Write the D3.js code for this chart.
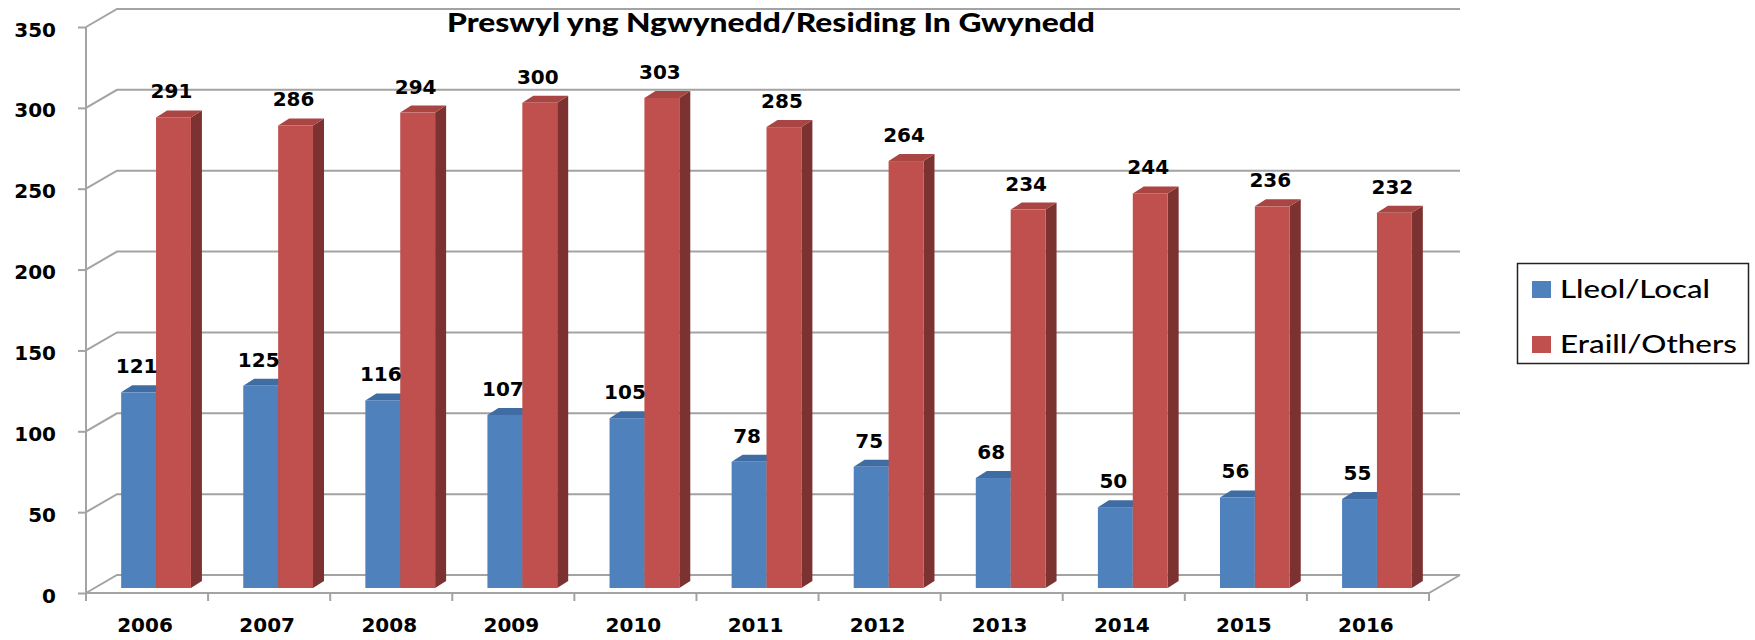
<!DOCTYPE html>
<html>
<head>
<meta charset="utf-8">
<script src="https://cdn.jsdelivr.net/npm/d3@7"></script>
<style>
  body { margin: 0; background: #fff; }
  svg { display: block; }
</style>
</head>
<body>
<svg id="chart" width="1755" height="640"></svg>
<script>
// data
var years = ["2006", "2007", "2008", "2009", "2010", "2011", "2012", "2013", "2014", "2015", "2016"];
var localVals = [121, 125, 116, 107, 105, 78, 75, 68, 50, 56, 55];
var otherVals = [291, 286, 294, 300, 303, 285, 264, 234, 244, 236, 232];
var seriesNames = ["Lleol/Local", "Eraill/Others"];
var yTicks = [0, 50, 100, 150, 200, 250, 300, 350];
var title = "Preswyl yng Ngwynedd/Residing In Gwynedd";

var svg = d3.select("#chart");

// wall depth (front plane -> back wall) and bar depth
var DX = 31, DY = -18;
var BX = 9, BY = -5;     // bar front face sits part way into the floor
var BDX = 11, BDY = -7;  // bar thickness

var x0 = d3.scaleBand().domain(years).range([86, 1429]).padding(0);
var x1 = d3.scaleBand().domain(seriesNames).range([0, x0.bandwidth()]).paddingInner(0).paddingOuter(0.75);
var y = d3.scaleLinear().domain([0, 350]).range([593, 27]);

var colors = {
  "Lleol/Local": { front: "#4f81bd", top: "#3f6ca3", side: "#2f5482" },
  "Eraill/Others": { front: "#c0504d", top: "#a94542", side: "#7b3230" }
};

var grid = svg.append("g").attr("stroke", "#a3a3a3").attr("stroke-width", 2).attr("fill", "none");

// back wall gridlines + left wall diagonals
yTicks.forEach(function (t) {
  var yf = y(t);
  grid.append("path")
    .attr("d", "M" + x0.range()[0] + "," + yf + "L" + (x0.range()[0] + DX) + "," + (yf + DY) +
               "L" + (x0.range()[1] + DX) + "," + (yf + DY));
});

// floor right edge + front edge
grid.append("path")
  .attr("d", "M" + x0.range()[0] + "," + y(0) + "L" + x0.range()[1] + "," + y(0) +
             "L" + (x0.range()[1] + DX) + "," + (y(0) + DY));

// y axis (front left edge) with ticks
var yAxis = d3.axisLeft(y).tickValues(yTicks).tickSize(8).tickPadding(22);
var gy = svg.append("g").attr("transform", "translate(" + x0.range()[0] + ",0)").call(yAxis);
gy.select(".domain").attr("stroke", "#a3a3a3").attr("stroke-width", 2)
  .attr("d", "M0," + y(350) + "V" + y(0));
gy.selectAll(".tick line").attr("stroke", "#a3a3a3").attr("stroke-width", 2);
gy.selectAll(".tick text")
  .attr("font-family", "DejaVu Sans").attr("font-weight", "bold").attr("font-size", 20)
  .attr("fill", "#000").attr("dy", "0.45em");

// x axis: ticks at category boundaries, labels at centres
var gx = svg.append("g");
d3.range(years.length + 1).forEach(function (i) {
  var xx = x0.range()[0] + i * x0.step();
  gx.append("line").attr("x1", xx).attr("x2", xx).attr("y1", y(0)).attr("y2", y(0) + 8)
    .attr("stroke", "#a3a3a3").attr("stroke-width", 2);
});
gx.selectAll("text").data(years).enter().append("text")
  .attr("x", function (d) { return x0(d) + x0.bandwidth() / 2 - 2; })
  .attr("y", 632)
  .attr("text-anchor", "middle")
  .attr("font-family", "DejaVu Sans").attr("font-weight", "bold").attr("font-size", 20)
  .text(function (d) { return d; });

// bars
var rows = [];
years.forEach(function (yr, i) {
  rows.push({ year: yr, series: seriesNames[0], value: localVals[i] });
  rows.push({ year: yr, series: seriesNames[1], value: otherVals[i] });
});

var bars = svg.append("g").selectAll("g").data(rows).enter().append("g");

function fx(d) { return x0(d.year) + x1(d.series) + BX; }
function fyTop(d) { return y(d.value) + BY; }
var fyBase = y(0) + BY;
var bw = x1.bandwidth();

bars.append("path") // side
  .attr("fill", function (d) { return colors[d.series].side; })
  .attr("d", function (d) {
    var xr = fx(d) + bw, yt = fyTop(d);
    return "M" + xr + "," + fyBase + "L" + xr + "," + yt + "L" + (xr + BDX) + "," + (yt + BDY) +
           "L" + (xr + BDX) + "," + (fyBase + BDY) + "Z";
  });
bars.append("path") // top
  .attr("fill", function (d) { return colors[d.series].top; })
  .attr("d", function (d) {
    var xl = fx(d), yt = fyTop(d);
    return "M" + xl + "," + yt + "L" + (xl + bw) + "," + yt + "L" + (xl + bw + BDX) + "," + (yt + BDY) +
           "L" + (xl + BDX) + "," + (yt + BDY) + "Z";
  });
bars.append("rect") // front
  .attr("fill", function (d) { return colors[d.series].front; })
  .attr("x", fx)
  .attr("y", fyTop)
  .attr("width", bw)
  .attr("height", function (d) { return fyBase - fyTop(d); });

// value labels
svg.append("g").selectAll("text").data(rows).enter().append("text")
  .attr("x", function (d) { return fx(d) + bw / 2 - 2; })
  .attr("y", function (d) { return fyTop(d) - 19; })
  .attr("text-anchor", "middle")
  .attr("font-family", "DejaVu Sans").attr("font-weight", "bold").attr("font-size", 20)
  .text(function (d) { return d.value; });

// title (source picture is stretched sideways, so fit the width)
svg.append("text")
  .attr("x", 447).attr("y", 32)
  .attr("font-family", "Lato").attr("font-weight", 900).attr("font-size", 26)
  .attr("textLength", 648).attr("lengthAdjust", "spacingAndGlyphs")
  .text(title);

// legend
var legendWidths = [150, 177];
var lg = svg.append("g");
lg.append("rect").attr("x", 1517.5).attr("y", 263.5).attr("width", 231).attr("height", 100)
  .attr("fill", "#fff").attr("stroke", "#222").attr("stroke-width", 1.5);
seriesNames.forEach(function (s, i) {
  lg.append("rect").attr("x", 1532).attr("y", 281 + i * 55).attr("width", 19).attr("height", 17)
    .attr("fill", colors[s].front);
  lg.append("text").attr("x", 1560).attr("y", 298 + i * 55)
    .attr("font-family", "Lato").attr("font-weight", 500).attr("font-size", 24)
    .attr("textLength", legendWidths[i]).attr("lengthAdjust", "spacingAndGlyphs")
    .text(s);
});
</script>
</body>
</html>
